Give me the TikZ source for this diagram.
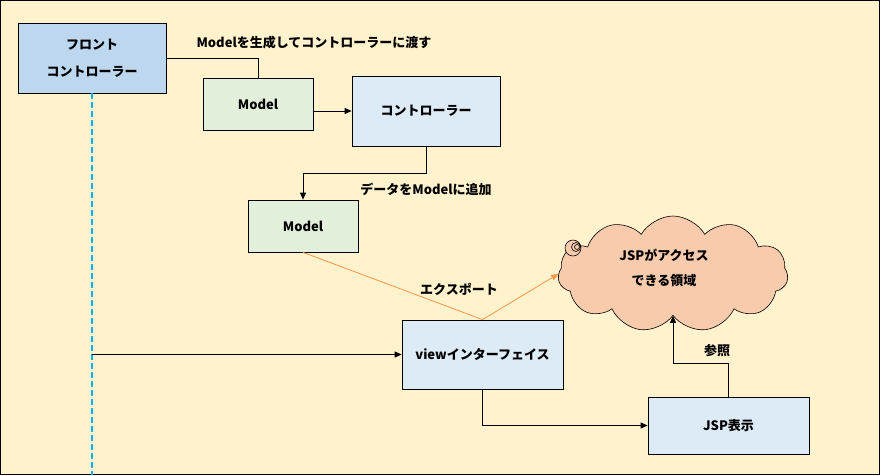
\documentclass[tikz,border=0pt]{standalone}
\usepackage{fontspec}
\setmainfont{Noto Sans CJK JP}
\usetikzlibrary{arrows.meta,shapes.symbols}
\definecolor{bgyellow}{HTML}{FFF2CC}
\definecolor{frontblue}{HTML}{BDD7EE}
\definecolor{paleblue}{HTML}{DDEBF7}
\definecolor{palegreen}{HTML}{E2EFDA}
\definecolor{cloudpeach}{HTML}{F8CBAD}
\definecolor{exportorange}{HTML}{F79646}
\definecolor{lifecyan}{HTML}{00B0F0}
\begin{document}
\begin{tikzpicture}[x=1pt,y=-1pt,
  every node/.style={inner sep=0pt,font=\bfseries\fontsize{13}{25}\selectfont},
  box/.style={draw=black,line width=0.8pt,align=center},
  conn/.style={draw=black,line width=0.8pt},
  arr/.style={conn,-{Triangle[length=7pt,width=6pt]}}]
\useasboundingbox (0,0) rectangle (880,475);
\draw [black,line width=1pt,fill=bgyellow] (0.5,0.5) rectangle (879.5,474.5);
\node [box,fill=frontblue,minimum width=148pt,minimum height=70pt,font=\bfseries\fontsize{13}{27}\selectfont] (front) at (92,58) {フロント\\コントローラー};
\node [box,fill=palegreen,minimum width=110pt,minimum height=52pt] (model1) at (258,104) {Model};
\node [box,fill=paleblue,minimum width=148pt,minimum height=70pt] (ctrl) at (426,111) {コントローラー};
\node [box,fill=palegreen,minimum width=110pt,minimum height=52pt] (model2) at (303,226) {Model};
\node [box,fill=paleblue,minimum width=161pt,minimum height=69pt] (view) at (482.5,354.5) {viewインターフェイス};
\node [box,fill=paleblue,minimum width=161pt,minimum height=57pt] (jsp) at (728.5,425.5) {JSP表示};
\node [cloud,cloud puffs=11,cloud puff arc=120,aspect=1.95,draw=black,line width=0.6pt,fill=cloudpeach,minimum width=230pt,minimum height=116pt] (area) at (673,274) {};
\draw [black,line width=0.6pt,fill=cloudpeach] (573,248) circle (8);
\draw [black,line width=0.6pt] (576,247) circle (4.5);
\draw [black,line width=0.6pt] (577,247) circle (2.5);
\node [align=center] (areatext) at (664,268) {JSPがアクセス\\できる領域};
\coordinate (lifeend) at (front.south |- 0,475);
\draw [lifecyan,line width=1.2pt,dash pattern=on 6pt off 3pt] (front.south) -- (lifeend);
\draw [conn] (front.east) -| (model1.north);
\node (lblcreate) at (314,43) {Modelを生成してコントローラーに渡す};
\draw [arr] (model1.east |- ctrl.west) -- (ctrl.west);
\draw [arr] (ctrl.south) -- ++(0,27) -| (model2.north);
\node (lbladd) at (426,189) {データをModelに追加};
\draw [exportorange,line width=0.8pt,-{Triangle[length=7pt,width=6pt]}] (model2.south) -- (view.north) -- (area.west);
\node (lblexport) at (459,289) {エクスポート};
\draw [arr] (front.south |- view.west) -- (view.west);
\draw [arr] (view.south) |- (jsp.west);
\draw [arr] (jsp.north) -- ++(0,-33) -| (area.south);
\node (lblref) at (717,351) {参照};
\end{tikzpicture}
\end{document}
